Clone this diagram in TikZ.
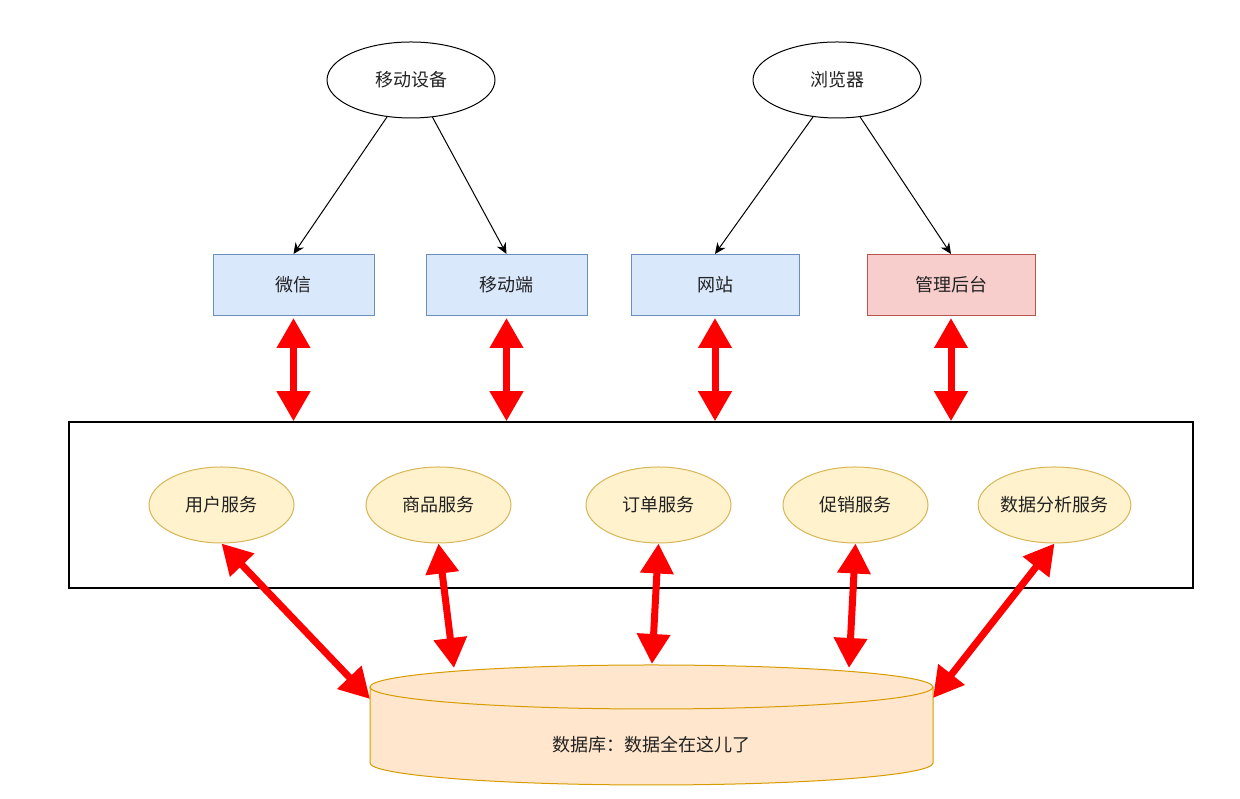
\documentclass[tikz,border=0pt]{standalone}
\usepackage{fontspec}
\setmainfont{Noto Sans CJK SC}
\usetikzlibrary{shapes.geometric,arrows.meta}
\definecolor{clientfill}{HTML}{DAE8FC}
\definecolor{clientline}{HTML}{6C8EBF}
\definecolor{adminfill}{HTML}{F8CECC}
\definecolor{adminline}{HTML}{B85450}
\definecolor{svcfill}{HTML}{FFF2CC}
\definecolor{svcline}{HTML}{D6B656}
\definecolor{dbfill}{HTML}{FFE6CC}
\definecolor{dbline}{HTML}{D79B00}
\definecolor{txt}{HTML}{222222}

\begin{document}
\begin{tikzpicture}[x=1pt, y=1pt, font=\fontsize{18}{20}\selectfont, text=txt,
    entry/.style={ellipse, draw, line width=1, minimum width=168pt, minimum height=76pt, inner sep=0},
    client/.style={rectangle, draw=clientline, fill=clientfill, line width=1, minimum width=168pt, minimum height=61pt},
    admin/.style={client, draw=adminline, fill=adminfill},
    svc/.style={ellipse, draw=svcline, fill=svcfill, line width=1, minimum width=145pt, minimum height=76pt, inner sep=0},
    dbshape/.style={draw=dbline, fill=dbfill, line width=1},
    flow/.style={-{Stealth[length=11pt,width=10pt]}, line width=1},
    biarrow/.style={red, line width=7pt, {Triangle[width=32pt,length=30pt]}-{Triangle[width=32pt,length=30pt]}}]
    \useasboundingbox (0,0) rectangle (1240,799);

    \node[entry] (dev) at (411,719) {移动设备};
    \node[entry] (brw) at (837,719) {浏览器};

    \node[client, minimum width=161pt] (wx) at (293.5,514) {微信};
    \node[client, minimum width=161pt] (app) at (506.5,514) {移动端};
    \node[client] (web) at (715,514) {网站};
    \node[admin] (adm) at (951,514) {管理后台};

    \draw[flow] (dev.237) -- (wx.north);
    \draw[flow] (dev.300) -- (app.north);
    \draw[flow] (brw.237) -- (web.north);
    \draw[flow] (brw.302) -- (adm.north);

    % service layer
    \node[draw, line width=1.5, minimum width=1124pt, minimum height=166pt] (layer) at (631,294) {};
    \node[svc] (usr) at (221.5,294) {用户服务};
    \node[svc] (goods) at (438.5,294) {商品服务};
    \node[svc] (order) at (658.5,294) {订单服务};
    \node[svc] (promo) at (855.5,294) {促销服务};
    \node[svc] (stats) at (1054.5,294) {数据分析服务};

    \draw[biarrow] ([yshift=-2pt]wx.south) -- (wx.south |- layer.north);
    \draw[biarrow] ([yshift=-2pt]app.south) -- (app.south |- layer.north);
    \draw[biarrow] ([yshift=-2pt]web.south) -- (web.south |- layer.north);
    \draw[biarrow] ([yshift=-2pt]adm.south) -- (adm.south |- layer.north);

    % database
    \filldraw[dbshape] (370,112) -- (370,36) arc[start angle=180, end angle=360, x radius=281.5, y radius=22]
    -- (933,112) arc[start angle=0, end angle=180, x radius=281.5, y radius=22] -- cycle;
    \draw[dbshape, fill=none] (370,112) arc[start angle=180, end angle=360, x radius=281.5, y radius=22];
    \node (db) at (651.5,54) {数据库：数据全在这儿了};
    \coordinate (dbw) at (370,100);
    \coordinate (dbn1) at (454,131);
    \coordinate (dbn2) at (652,135);
    \coordinate (dbn3) at (849,131);
    \coordinate (dbe) at (933,101);

    \draw[biarrow] (usr.south) -- (dbw);
    \draw[biarrow] (goods.south) -- (dbn1);
    \draw[biarrow] (order.south) -- (dbn2);
    \draw[biarrow] (promo.south) -- (dbn3);
    \draw[biarrow] (stats.south) -- (dbe);
  \end{tikzpicture}
\end{document}
